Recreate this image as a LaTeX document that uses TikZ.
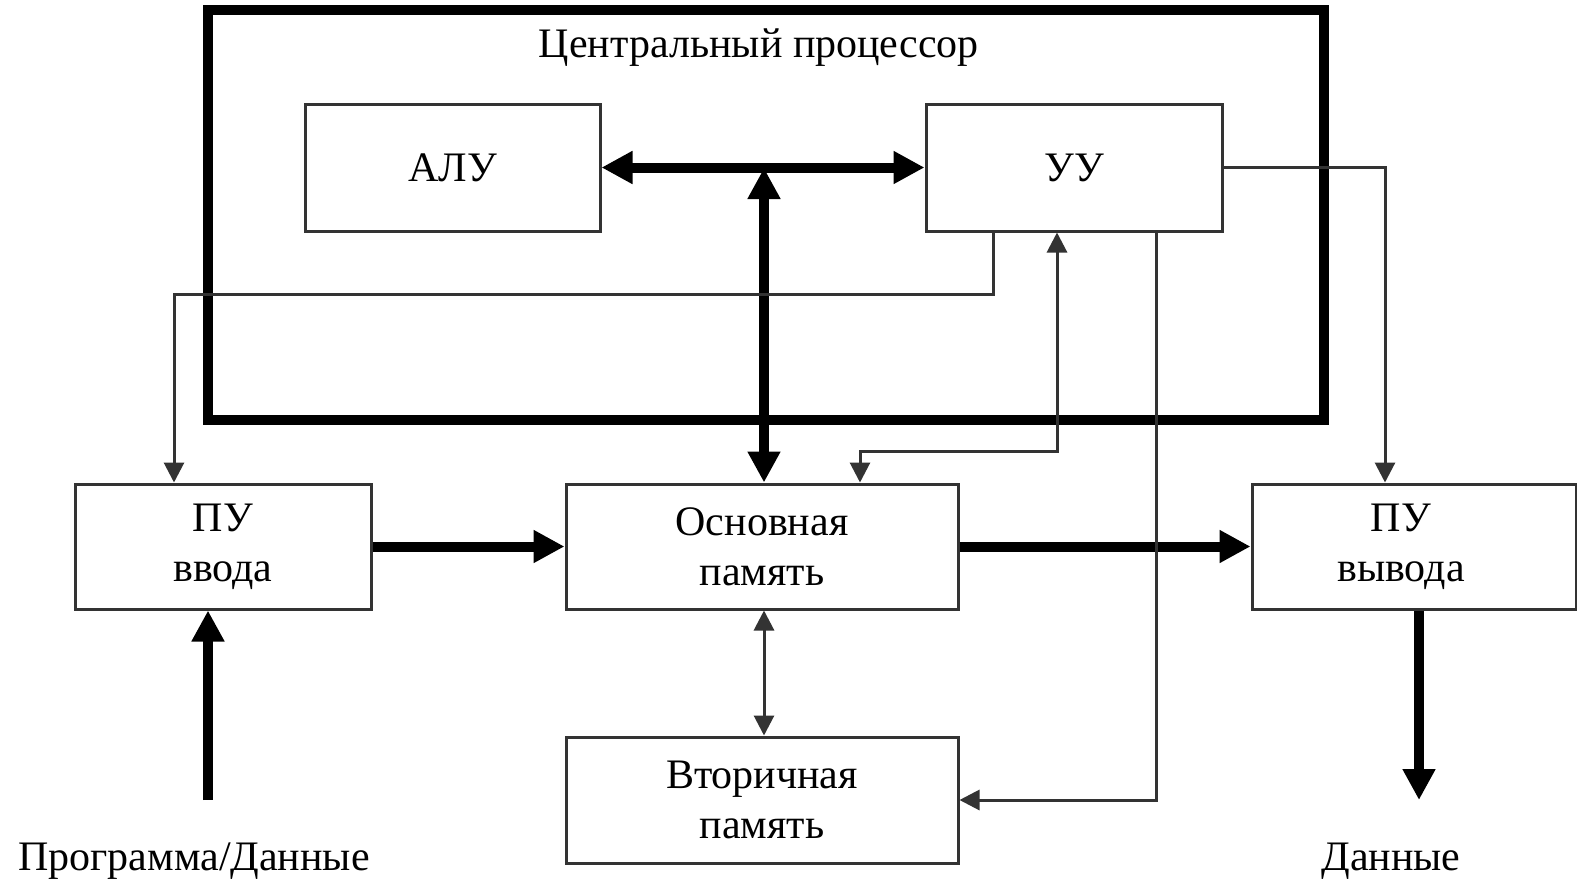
\documentclass[tikz,border=0pt]{standalone}
\usepackage{fontspec}
\setmainfont{Liberation Serif}
\usetikzlibrary{arrows.meta}
\begin{document}
\begin{tikzpicture}[x=1pt,y=-1pt,
  lbl/.style={font=\fontsize{42}{50}\selectfont, align=center, inner sep=0pt},
  blk/.style={draw=black!80, line width=3pt, inner sep=0pt, align=center,
              font=\fontsize{42}{50}\selectfont},
  cpuframe/.style={draw=black, line width=10pt, inner sep=0pt},
  bus/.style={draw=black, line width=10pt},
  busarr/.style={bus, arrows={-Triangle[length=31pt,width=31pt]}},
  busboth/.style={bus, arrows={Triangle[length=31pt,width=31pt]-Triangle[length=31pt,width=31pt]}},
  ctl/.style={draw=black!80, line width=3pt},
  ctlarr/.style={ctl, arrows={-Triangle[length=20pt,width=20pt]}},
  ctlboth/.style={ctl, arrows={Triangle[length=20pt,width=20pt]-Triangle[length=20pt,width=20pt]}}]
\useasboundingbox (0,0) rectangle (1577,881);

% processor frame and its title
\node[cpuframe, minimum width=1116pt, minimum height=410pt] (cpu) at (766,215) {};
\node[lbl] (cputitle) at (759,48) {Центральный процессор};

% blocks
\node[blk, minimum width=295pt, minimum height=127pt] (alu) at (452.5,167.5) {АЛУ};
\node[blk, minimum width=296pt, minimum height=127pt] (uu) at (1074,167.5) {УУ};
\node[blk, minimum width=296pt, minimum height=125pt] (vvod) at (223,546.5) {ПУ\\ввода};
\node[blk, minimum width=392pt, minimum height=125pt] (osn) at (762,546.5) {Основная\\память};
\node[blk, minimum width=324pt, minimum height=125pt] (vyv) at (1414,546.5) {};
\node[lbl] (vyvtext) at (1401,546.5) {ПУ\\вывода};
\node[blk, minimum width=392pt, minimum height=126pt] (vtor) at (762,800) {Вторичная\\память};

% outer inputs and outputs
\node[lbl, anchor=base] (prog) at (194,870) {Программа/Данные};
\node[lbl, anchor=base] (dan) at (1391,870) {Данные};
\coordinate (inp) at (208,800);
\coordinate (outp) at (1419,800);

% data buses
\coordinate (busj) at (764,168);
\draw[busboth] (alu.east) -- (uu.west);
\draw[busboth] (busj |- osn.north) -- (busj);
\draw[busarr] (vvod.east) -- (osn.west);
\draw[busarr] (osn.east) -- (vyv.west);
\draw[busarr] (inp) -- (inp |- vvod.south);
\draw[busarr] (vyv.south -| outp) -- (outp);

% control lines
\coordinate (k1) at (993,294);
\coordinate (j1) at (174,294);
\draw[ctlarr] (k1 |- uu.south) -- (k1) -- (j1) -- (j1 |- vvod.north);

\coordinate (k2) at (860,451);
\coordinate (j2) at (1057,451);
\draw[ctlboth] (k2 |- osn.north) -- (k2) -- (j2) -- (j2 |- uu.south);

\coordinate (k3) at (1385,167.5);
\draw[ctlarr] (uu.east) -- (k3) -- (k3 |- vyv.north);

\coordinate (k4) at (1156,800);
\draw[ctlarr] (k4 |- uu.south) -- (k4) -- (vtor.east);

\draw[ctlboth] (busj |- osn.south) -- (busj |- vtor.north);
\end{tikzpicture}
\end{document}
